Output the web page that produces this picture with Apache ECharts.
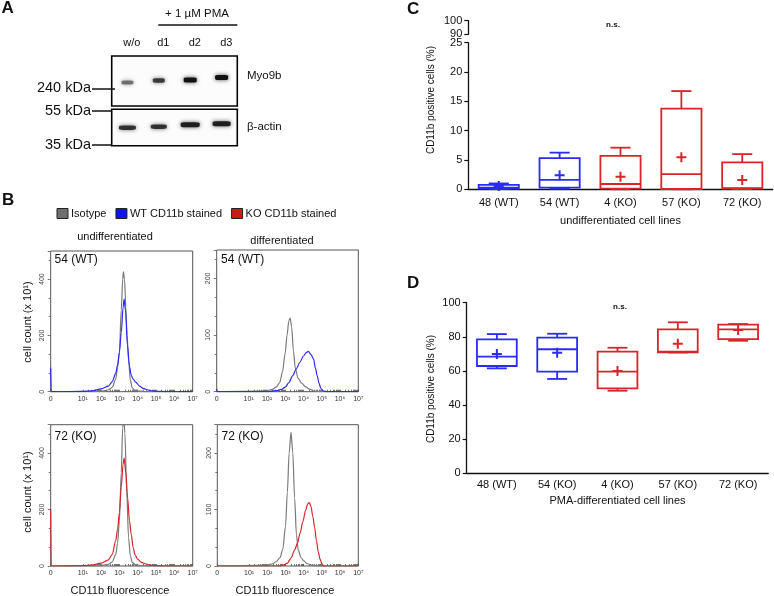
<!DOCTYPE html>
<html><head><meta charset="utf-8">
<script src="https://cdn.jsdelivr.net/npm/echarts@6/dist/echarts.min.js"></script>
<style>html,body{margin:0;padding:0;background:#fff}#c{width:774px;height:596px}</style>
</head><body><div id="c"></div><script>
// ---------- DATA ----------
// Panel A: western blot
const lanes = ['w/o', 'd1', 'd2', 'd3'];
const myo9bIntensity = [0.5, 0.75, 1.0, 1.0];
const myo9bMigration = [53, 49, 48, 43];      // % of blot height from top
const actinIntensity = [0.8, 0.8, 0.9, 0.9];
const actinMigration = [50.5, 47.8, 42.3, 39.6];

// Panel B: flow cytometry histograms, [decade position, count (x10)]
const histTickValues = [-0.75, 1, 2, 3, 4, 5, 6, 7];
const histTickLabels = ['0', '10¹', '10²', '10³', '10⁴', '10⁵', '10⁶', '10⁷'];
const wtUndiffIso = [[-0.75,0],[1.5,1],[2.0,2],[2.4,6],[2.6,15],[2.8,45],[2.9,85],[3.0,140],[3.1,290],[3.18,400],[3.22,426],[3.28,400],[3.35,300],[3.42,200],[3.5,110],[3.6,40],[3.7,14],[3.85,5],[4.1,2],[4.5,0],[7,0]];
const wtUndiffStained = [[-0.75,85],[-0.72,0],[1.0,1],[1.5,3],[2.0,10],[2.4,20],[2.6,35],[2.8,65],[2.9,95],[3.0,140],[3.1,210],[3.2,300],[3.26,329],[3.33,290],[3.44,165],[3.55,90],[3.65,57],[3.75,45],[3.9,33],[4.1,20],[4.3,12],[4.5,7],[4.8,3],[5.2,1],[6,0],[7,0]];
const wtDiffIso = [[-0.75,0],[1.5,1],[2.0,2],[2.3,4],[2.5,8],[2.7,16],[2.85,35],[3.0,68],[3.1,100],[3.2,125],[3.27,130],[3.35,115],[3.45,72],[3.55,42],[3.7,24],[3.9,15],[4.1,9],[4.3,5],[4.6,1],[5,0],[7,0]];
const wtDiffStained = [[-0.75,5],[-0.72,0],[2.0,0],[2.5,2],[2.8,4],[3.0,8],[3.2,16],[3.4,28],[3.6,40],[3.8,52],[4.0,63],[4.15,69],[4.27,71],[4.4,66],[4.55,58],[4.65,42],[4.75,28],[4.85,15],[4.95,6],[5.1,1],[5.3,0],[7,0]];
const koUndiffIso = [[-0.75,0],[1.5,1],[2.0,2],[2.4,6],[2.6,14],[2.8,40],[2.9,80],[3.0,160],[3.1,330],[3.18,490],[3.23,530],[3.3,470],[3.4,260],[3.5,100],[3.6,35],[3.7,12],[3.9,4],[4.2,1],[4.6,0],[7,0]];
const koUndiffStained = [[-0.75,200],[-0.72,0],[1.0,1],[1.5,3],[2.0,10],[2.4,22],[2.6,40],[2.8,90],[2.9,130],[3.0,190],[3.1,280],[3.2,360],[3.26,382],[3.35,330],[3.45,240],[3.55,160],[3.65,110],[3.75,65],[3.85,40],[4.0,24],[4.2,13],[4.4,8],[4.7,3],[5.0,1],[5.5,0],[7,0]];
const koDiffIso = [[-0.75,0],[1.5,1],[2.0,2],[2.3,4],[2.5,8],[2.7,15],[2.85,30],[3.0,70],[3.1,130],[3.2,200],[3.3,237],[3.4,200],[3.5,120],[3.6,55],[3.7,28],[3.85,15],[4.0,9],[4.2,4],[4.5,1],[5,0],[7,0]];
const koDiffStained = [[-0.75,4],[-0.72,0],[2.6,0],[2.9,2],[3.1,5],[3.3,14],[3.5,28],[3.65,40],[3.8,58],[3.95,78],[4.1,98],[4.22,110],[4.31,112],[4.4,105],[4.5,88],[4.6,68],[4.7,45],[4.8,25],[4.9,12],[5.0,4],[5.1,0],[7,0]];

// Panel C: undifferentiated, CD11b positive cells (%)
const cCategories = ['48 (WT)', '54 (WT)', '4 (KO)', '57 (KO)', '72 (KO)'];
const cColorGroup = ['WT', 'WT', 'KO', 'KO', 'KO'];
const cMin    = [0.05, 0.1, 0.0, 0.0, 0.05];
const cQ1     = [0.1, 0.3, 0.1, 0.05, 0.1];
const cMedian = [0.3, 1.6, 0.9, 2.6, 0.2];
const cQ3     = [0.75, 5.3, 5.7, 13.75, 4.6];
const cMax    = [1.0, 6.25, 7.1, 16.75, 6.0];
const cMean   = [0.55, 2.4, 2.15, 5.45, 1.6];

// Panel D: PMA-differentiated, CD11b positive cells (%)
const dCategories = ['48 (WT)', '54 (KO)', '4 (KO)', '57 (KO)', '72 (KO)'];
const dColorGroup = ['WT', 'WT', 'KO', 'KO', 'KO'];
const dMin    = [61.5, 55.3, 48.4, 70.8, 77.7];
const dQ1     = [62.9, 59.6, 49.8, 70.9, 78.7];
const dMedian = [68.4, 72.7, 59.6, 71.3, 84.4];
const dQ3     = [78.5, 79.5, 71.3, 84.4, 87.1];
const dMax    = [81.6, 81.8, 73.6, 88.5, 87.5];
const dMean   = [69.9, 70.7, 60.0, 76.0, 84.0];

// ---------- STYLE ----------
const FONT = '"Liberation Sans", Arial, sans-serif';
const BLUE = '#2b2bf5', RED = '#d7262b', GREY = '#7a7a7a';
const groupColor = { WT: BLUE, KO: RED };

const chart = echarts.init(document.getElementById('c'), null, { renderer: 'canvas' });

const grids = [
  { left: 111.7, top: 56, width: 125.6, height: 50 },      // 0 blot Myo9b
  { left: 111.7, top: 109.3, width: 125.6, height: 36.4 }, // 1 blot actin
  { left: 50.7, top: 251, width: 142, height: 140.7 },     // 2 TL
  { left: 216.7, top: 250, width: 141.6, height: 141.7 },  // 3 TR
  { left: 50.7, top: 424.7, width: 142, height: 141.3 },   // 4 BL
  { left: 217.3, top: 424.7, width: 141, height: 141.3 },  // 5 BR
  { left: 468.3, top: 20.7, width: 304.4, height: 13.6 },  // 6 C upper
  { left: 468.3, top: 42.7, width: 304.4, height: 146.6 }, // 7 C lower
  { left: 466.7, top: 302.7, width: 301.6, height: 170.6 },// 8 D
  { left: 116, top: 50, width: 126, height: 1 }            // 9 lane labels
].map((g, i) => Object.assign({
  containLabel: false,
  show: i <= 5,
  borderColor: i <= 1 ? '#000' : '#555',
  borderWidth: i <= 1 ? 1.6 : 1,
  backgroundColor: i <= 1 ? '#fcfcfc' : 'transparent'
}, g));

// log minor ticks for the flow histograms
const histMinor = [];
for (let k = 1; k < 7; k++) for (let m = 2; m <= 9; m++) histMinor.push(k + Math.log10(m));
const histAllTicks = histTickValues.concat(histMinor);

function histX(gi) {
  return {
    gridIndex: gi, type: 'value', min: -0.75, max: 7,
    axisLine: { show: false, onZero: false },
    splitLine: { show: false },
    axisTick: { show: true, inside: true, length: 2, customValues: histAllTicks, lineStyle: { color: '#555', width: 0.8 } },
    axisLabel: {
      customValues: histTickValues, fontSize: 7, color: '#333', fontFamily: FONT, margin: 4,
      formatter: v => { const i = histTickValues.findIndex(t => Math.abs(t - v) < 1e-6); return i >= 0 ? histTickLabels[i] : ''; }
    }
  };
}
function histY(gi, max, interval) {
  return {
    gridIndex: gi, type: 'value', min: 0, max, interval,
    axisLine: { show: false, onZero: false }, splitLine: { show: false },
    axisTick: { show: true, length: 3, lineStyle: { color: '#555', width: 0.8 } },
    minorTick: { show: true, splitNumber: 3, length: 2, lineStyle: { color: '#555', width: 0.8 } },
    axisLabel: { rotate: 90, fontSize: 7, color: '#444', fontFamily: FONT, margin: 5, showMaxLabel: false }
  };
}
const hidden = (gi, type, extra) => Object.assign({ gridIndex: gi, type, show: false }, extra || {});

const axisBlack = { onZero: false, lineStyle: { color: '#111', width: 1.3 } };
const xAxes = [
  hidden(0, 'category', { data: lanes }),
  hidden(1, 'category', { data: lanes }),
  histX(2), histX(3), histX(4), histX(5),
  hidden(6, 'category', { data: cCategories }),
  { gridIndex: 7, type: 'category', data: cCategories,
    axisLine: axisBlack, axisTick: { alignWithLabel: true, length: 4, lineStyle: { color: '#111', width: 1.2 } },
    axisLabel: { fontSize: 11, color: '#111', fontFamily: FONT, margin: 8 },
    name: 'undifferentiated cell lines', nameLocation: 'middle', nameGap: 26,
    nameTextStyle: { fontSize: 11, color: '#111', fontFamily: FONT } },
  { gridIndex: 8, type: 'category', data: dCategories,
    axisLine: axisBlack, axisTick: { alignWithLabel: true, length: 4, lineStyle: { color: '#111', width: 1.2 } },
    axisLabel: { fontSize: 11, color: '#111', fontFamily: FONT, margin: 6 },
    name: 'PMA-differentiated cell lines', nameLocation: 'middle', nameGap: 22,
    nameTextStyle: { fontSize: 11, color: '#111', fontFamily: FONT } },
  { gridIndex: 9, type: 'category', data: lanes, position: 'top',
    axisLine: { show: false }, axisTick: { show: false },
    axisLabel: { fontSize: 11, color: '#111', fontFamily: FONT, margin: 2 } }
];
const yBlack = (gi, min, max, interval) => ({
  gridIndex: gi, type: 'value', min, max, interval,
  axisLine: { show: true, onZero: false, lineStyle: { color: '#111', width: 1.3 } },
  axisTick: { show: true, length: 4, lineStyle: { color: '#111', width: 1.2 } },
  splitLine: { show: false },
  axisLabel: { fontSize: 11, color: '#111', fontFamily: FONT, margin: 6 }
});
const yAxes = [
  hidden(0, 'value', { min: 0, max: 100, inverse: true }),
  hidden(1, 'value', { min: 0, max: 100, inverse: true }),
  histY(2, 500, 200), histY(3, 250, 100), histY(4, 500, 200), histY(5, 250, 100),
  yBlack(6, 90, 100, 10),
  yBlack(7, 0, 25, 5),
  yBlack(8, 0, 100, 20),
  hidden(9, 'value', { min: 0, max: 1 })
];

// ---------- SERIES ----------
function bandSeries(gi, intensity, migration, w, h) {
  return {
    type: 'scatter', xAxisIndex: gi, yAxisIndex: gi, symbol: 'roundRect', silent: true,
    data: lanes.map((l, i) => ({
      value: [i, migration[i]], symbolSize: [w[i], h[i]],
      itemStyle: { color: '#111', opacity: intensity[i], shadowBlur: 4, shadowColor: 'rgba(0,0,0,0.7)' }
    }))
  };
}
function histSeries(gi, name, data, color) {
  return {
    type: 'line', name, xAxisIndex: gi, yAxisIndex: gi, data, showSymbol: false,
    smooth: 0.3, smoothMonotone: 'x', clip: true,
    lineStyle: { color, width: 1.2 }, itemStyle: { color }
  };
}
function renderBox(params, api) {
  const i = api.value(0);
  const p = k => api.coord([i, api.value(k)]);
  const lo = p(1), q1 = p(2), md = p(3), q3 = p(4), hi = p(5);
  const cx = lo[0];
  const bw = api.size([1, 0])[0] * 0.66, cw = bw * 0.5;
  const c = api.visual('color');
  const st = { stroke: c, lineWidth: 1.8, fill: 'none' };
  const L = (x1, y1, x2, y2) => ({ type: 'line', shape: { x1, y1, x2, y2 }, style: st });
  return { type: 'group', children: [
    { type: 'rect', shape: { x: cx - bw / 2, y: q3[1], width: bw, height: q1[1] - q3[1] }, style: st },
    L(cx - bw / 2, md[1], cx + bw / 2, md[1]),
    L(cx, q3[1], cx, hi[1]), L(cx - cw / 2, hi[1], cx + cw / 2, hi[1]),
    L(cx, q1[1], cx, lo[1]), L(cx - cw / 2, lo[1], cx + cw / 2, lo[1])
  ] };
}
const PLUS = 'path://M4,0H6V4H10V6H6V10H4V6H0V4H4Z';
function boxSeries(gi, groups, mn, q1, md, q3, mx) {
  return {
    type: 'custom', xAxisIndex: gi, yAxisIndex: gi, renderItem: renderBox,
    encode: { x: 0, y: [1, 2, 3, 4, 5] },
    data: groups.map((g, i) => ({ value: [i, mn[i], q1[i], md[i], q3[i], mx[i]], itemStyle: { color: groupColor[g] } }))
  };
}
function meanSeries(gi, groups, mean) {
  return {
    type: 'scatter', xAxisIndex: gi, yAxisIndex: gi, symbol: PLUS, symbolSize: 10,
    data: groups.map((g, i) => ({ value: [i, mean[i]], itemStyle: { color: groupColor[g], opacity: 1 } }))
  };
}

const series = [
  bandSeries(0, myo9bIntensity, myo9bMigration, [12, 12, 13, 13], [4, 4.5, 5, 5]),
  bandSeries(1, actinIntensity, actinMigration, [17, 16, 19, 18], [4.5, 4.5, 5, 5]),
  histSeries(2, 'Isotype', wtUndiffIso, GREY),
  histSeries(2, 'WT CD11b stained', wtUndiffStained, BLUE),
  histSeries(3, 'Isotype', wtDiffIso, GREY),
  histSeries(3, 'WT CD11b stained', wtDiffStained, BLUE),
  histSeries(4, 'Isotype', koUndiffIso, GREY),
  histSeries(4, 'KO CD11b stained', koUndiffStained, RED),
  histSeries(5, 'Isotype', koDiffIso, GREY),
  histSeries(5, 'KO CD11b stained', koDiffStained, RED),
  boxSeries(7, cColorGroup, cMin, cQ1, cMedian, cQ3, cMax),
  meanSeries(7, cColorGroup, cMean),
  boxSeries(8, dColorGroup, dMin, dQ1, dMedian, dQ3, dMax),
  meanSeries(8, dColorGroup, dMean)
];

// ---------- ANNOTATIONS ----------
function T(text, x, y, o) {
  o = o || {};
  return {
    type: 'text', x, y, rotation: o.rotation || 0, silent: true,
    style: {
      text, fill: o.color || '#111',
      font: (o.weight || 'normal') + ' ' + (o.size || 11) + 'px ' + FONT,
      textAlign: o.align || 'center', align: o.align || 'center',
      textVerticalAlign: 'middle', verticalAlign: 'middle'
    }
  };
}
function Ln(x1, y1, x2, y2, w) {
  return { type: 'line', silent: true, shape: { x1, y1, x2, y2 }, style: { stroke: '#111', lineWidth: w || 1.4 } };
}
const graphic = [
  T('A', 1.5, 8.5, { size: 17, weight: 'bold', align: 'left' }),
  T('B', 2, 200.5, { size: 17, weight: 'bold', align: 'left' }),
  T('C', 407, 9.5, { size: 17, weight: 'bold', align: 'left' }),
  T('D', 407, 283, { size: 17, weight: 'bold', align: 'left' }),
  T('+ 1 µM PMA', 197, 13.5, { size: 11.5 }),
  Ln(158.3, 25, 237.3, 25, 1.5),
  T('Myo9b', 247, 76, { size: 11.5, align: 'left' }),
  T('β-actin', 247, 126.5, { size: 11.5, align: 'left' }),
  T('240 kDa', 91, 87.5, { size: 14.5, align: 'right' }),
  Ln(92, 89, 115, 89, 1.5),
  T('55 kDa', 91, 111, { size: 14.5, align: 'right' }),
  Ln(92, 111, 112, 111, 1.5),
  T('35 kDa', 91, 144.5, { size: 14.5, align: 'right' }),
  Ln(92, 145, 112, 145, 1.5),
  T('undifferentiated', 115, 237, { size: 11 }),
  T('differentiated', 282, 241, { size: 11 }),
  T('54 (WT)', 54.5, 260, { size: 12, align: 'left' }),
  T('54 (WT)', 221, 259.5, { size: 12, align: 'left' }),
  T('72 (KO)', 54.5, 436.5, { size: 12, align: 'left' }),
  T('72 (KO)', 221.5, 436.5, { size: 12, align: 'left' }),
  T('cell count (x 10¹)', 28, 322, { size: 11, rotation: Math.PI / 2 }),
  T('cell count (x 10¹)', 28, 492, { size: 11, rotation: Math.PI / 2 }),
  T('CD11b fluorescence', 120, 591, { size: 11 }),
  T('CD11b fluorescence', 285, 591, { size: 11 }),
  T('CD11b positive cells (%)', 431.5, 100, { size: 10, rotation: Math.PI / 2 }),
  T('CD11b positive cells (%)', 431.5, 389, { size: 10, rotation: Math.PI / 2 }),
  T('n.s.', 613, 25, { size: 8, weight: 'bold' }),
  T('n.s.', 620, 306.5, { size: 8, weight: 'bold' })
];

chart.setOption({
  animation: false,
  backgroundColor: '#fff',
  grid: grids,
  xAxis: xAxes,
  yAxis: yAxes,
  legend: {
    left: 51.5, top: 203, itemWidth: 11, itemHeight: 10, itemGap: 9, icon: 'rect',
    selectedMode: false,
    textStyle: { fontSize: 11, color: '#111', fontFamily: FONT, padding: [0, 0, 0, -2] },
    itemStyle: { borderColor: '#222', borderWidth: 1 },
    data: [
      { name: 'Isotype', itemStyle: { color: '#6e6e6e' } },
      { name: 'WT CD11b stained', itemStyle: { color: '#1010f0' } },
      { name: 'KO CD11b stained', itemStyle: { color: '#cc1a1a' } }
    ]
  },
  series,
  graphic
});
</script></body></html>
